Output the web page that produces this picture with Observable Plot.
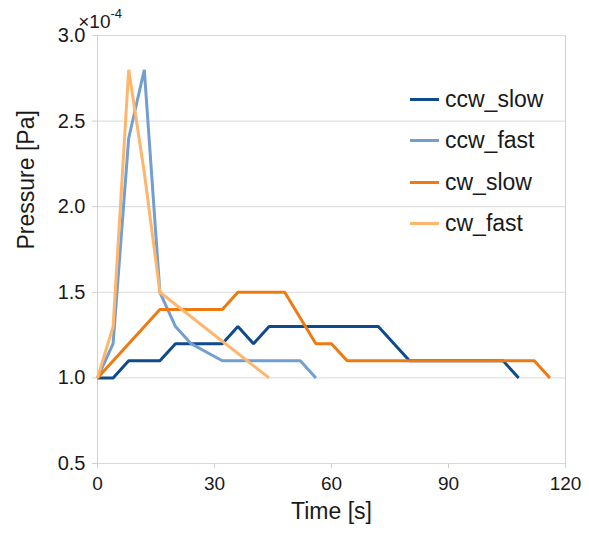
<!DOCTYPE html>
<html>
<head>
<meta charset="utf-8">
<script src="https://cdn.jsdelivr.net/npm/d3@7"></script>
<script src="https://cdn.jsdelivr.net/npm/@observablehq/plot@0.6"></script>
<style>
  html, body { margin: 0; padding: 0; background: #fff; }
  #wrap { position: relative; width: 589px; height: 535px; font-family: "Liberation Sans", Arial, sans-serif; }
  #legend { position: absolute; left: 410px; top: 79px; }
  .item { display: flex; align-items: center; height: 41.3px; }
  .sw { width: 29px; height: 3px; margin-right: 6px; }
  .lab { font-size: 23px; color: #1a1a1a; line-height: 1; }
</style>
</head>
<body>
<div id="wrap"><div id="legend"></div></div>
<script>
const seriesNames = ["ccw_slow", "ccw_fast", "cw_slow", "cw_fast"];
const seriesColors = ["#0f4a8a", "#729fcf", "#f07a12", "#ffb66c"];

const ccwSlowTime = [0, 4, 8, 16, 20, 32, 36, 40, 44, 72, 80, 104, 108];
const ccwSlowPressure = [1.0, 1.0, 1.1, 1.1, 1.2, 1.2, 1.3, 1.2, 1.3, 1.3, 1.1, 1.1, 1.0];

const ccwFastTime = [0, 4, 8, 12, 16, 20, 24, 28, 32, 52, 56];
const ccwFastPressure = [1.0, 1.2, 2.4, 2.8, 1.5, 1.3, 1.2, 1.15, 1.1, 1.1, 1.0];

const cwSlowTime = [0, 16, 32, 36, 48, 56, 60, 64, 112, 116];
const cwSlowPressure = [1.0, 1.4, 1.4, 1.5, 1.5, 1.2, 1.2, 1.1, 1.1, 1.0];

const cwFastTime = [0, 4, 8, 12, 16, 44];
const cwFastPressure = [1.0, 1.3, 2.8, 2.2, 1.5, 1.0];

const xTicks = [0, 30, 60, 90, 120];
const yTicks = [0.5, 1.0, 1.5, 2.0, 2.5, 3.0];

const times = [ccwSlowTime, ccwFastTime, cwSlowTime, cwFastTime];
const pressures = [ccwSlowPressure, ccwFastPressure, cwSlowPressure, cwFastPressure];
const data = seriesNames.flatMap((s, i) => times[i].map((t, j) => ({series: s, t, p: pressures[i][j]})));

const font = '"Liberation Sans", Arial, sans-serif';
const chart = Plot.plot({
  width: 589,
  height: 535,
  marginLeft: 97,
  marginRight: 24,
  marginTop: 35,
  marginBottom: 72,
  style: {fontFamily: font, fontSize: "19px", color: "#1a1a1a", background: "#fff"},
  x: {domain: [0, 120]},
  y: {domain: [0.5, 3.0]},
  color: {domain: seriesNames, range: seriesColors},
  marks: [
    Plot.gridY(yTicks, {stroke: "#d9d9d9", strokeOpacity: 1, strokeWidth: 1}),
    Plot.ruleX([0, 120], {stroke: "#d0d0d0", strokeWidth: 1}),
    Plot.axisY(yTicks, {tickFormat: d3.format(".1f"), tickSize: 5, tickPadding: 7, stroke: "#d0d0d0", label: null, fontSize: 20}),
    Plot.axisX(xTicks, {tickSize: 5, tickPadding: 8, stroke: "#d0d0d0", label: null, fontSize: 19}),
    Plot.line(data, {x: "t", y: "p", z: "series", stroke: "series", strokeWidth: 3, strokeLinejoin: "miter", strokeLinecap: "butt"}),
    Plot.text(["Time [s]"], {frameAnchor: "bottom", dy: 55, fontSize: 23, fill: "#1a1a1a"}),
    Plot.text(["Pressure [Pa]"], {frameAnchor: "left", dx: -71, rotate: -90, fontSize: 23, fill: "#1a1a1a"}),
    Plot.text(["×10"], {frameAnchor: "top-left", textAnchor: "end", dx: 13, dy: -21, fontSize: 19, fill: "#1a1a1a"}),
    Plot.text(["-4"], {frameAnchor: "top-left", textAnchor: "start", dx: 13, dy: -27, fontSize: 13, fill: "#1a1a1a"})
  ]
});
const wrap = document.getElementById("wrap");
wrap.insertBefore(chart, wrap.firstChild);

const legend = document.getElementById("legend");
seriesNames.forEach((s, i) => {
  const item = document.createElement("div");
  item.className = "item";
  item.innerHTML = `<div class="sw" style="background:${seriesColors[i]}"></div><span class="lab">${s}</span>`;
  legend.appendChild(item);
});
</script>
</body>
</html>
